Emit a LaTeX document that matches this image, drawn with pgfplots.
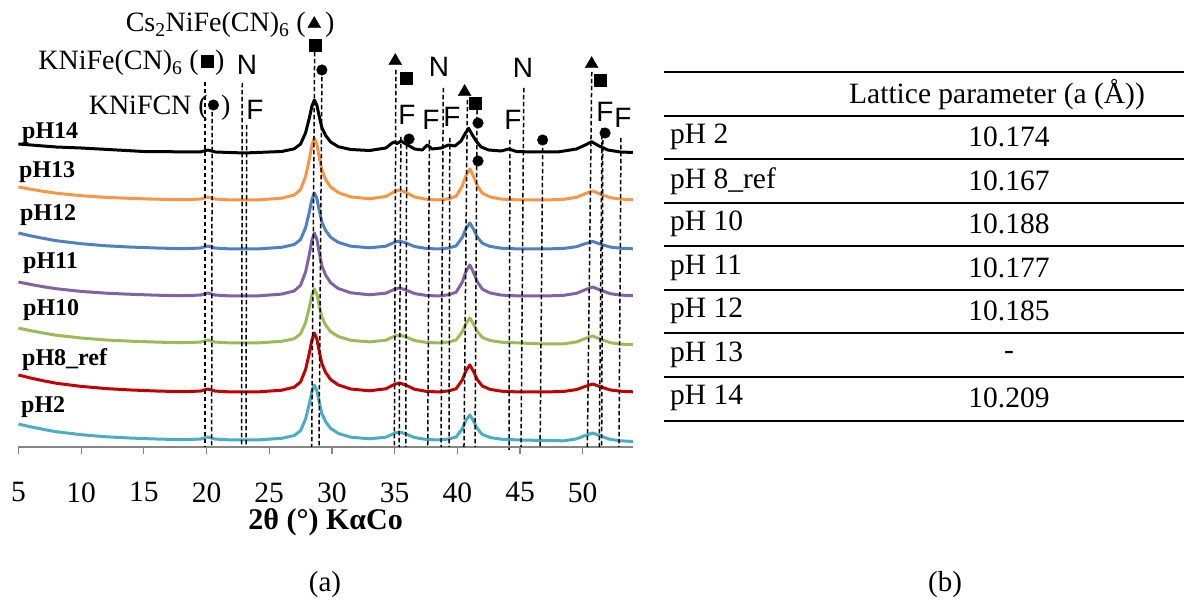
\documentclass[border=0pt]{standalone}
\usepackage{fontspec}
\setmainfont{Liberation Serif}
\newfontfamily\sansf{Liberation Sans}
\usepackage{pgfplots}
\usepackage{pgfplotstable}
\pgfplotsset{compat=1.18}
\definecolor{cO}{HTML}{F79646}
\definecolor{cB}{HTML}{4F81BD}
\definecolor{cP}{HTML}{8064A2}
\definecolor{cG}{HTML}{9BBB59}
\definecolor{cR}{HTML}{C00000}
\definecolor{cC}{HTML}{4BACC6}
\definecolor{axgray}{HTML}{868686}

\pgfplotstableread{
x o b p g r c
5 260 214 165 119 72 23
6 257.7 211.1 162.5 116.3 68.9 20.1
7 255.6 208.6 160.2 113.9 66.2 17.6
8 253.8 206.3 158.3 111.8 63.8 15.3
10 251.3 203.3 155.6 109 60.6 12.3
12 249.6 201.2 153.8 107 58.4 10.2
14 248.6 199.9 152.7 105.8 57 8.9
16 247.8 199 151.8 104.9 56 8
18 247.3 198.3 151.3 104.3 55.3 7.3
19.5 247.9 198.9 151.9 104.9 55.9 7.9
20.1 250 201 154 107 58 10
20.7 247.9 198.9 151.9 104.9 55.9 7.9
22 247 198 151 104 55 7
24 247 198 151 104 55 7
26 248.8 199.7 152.9 105.7 56.8 8.7
27 252.0 202.5 156.1 108.3 59.8 11.5
27.5 257.5 207.5 161.8 113.2 65.1 16.4
27.9 270.5 219.3 175.0 124.5 77.5 28.0
28.2 287.9 235 192.6 139.6 93.9 43.3
28.4 301.6 247.3 206.4 151.5 106.9 55.4
28.6 309 254 214 158 114 62
28.8 302.8 248.4 207.7 152.6 108.1 56.5
29.0 289.2 236.1 193.8 140.7 95.1 44.4
29.2 276.8 224.9 181.2 129.9 83.3 33.4
29.5 267.4 216.5 171.8 121.8 74.5 25.2
29.9 260.0 209.7 164.2 115.4 67.4 18.6
30.5 254.5 204.7 158.5 110.5 62.1 13.6
31.5 250.1 200.8 154.2 106.7 58.0 9.8
33 248.2 199.2 152.2 105.1 56.2 8.2
34.3 250.5 200.8 153.8 106.8 58.2 9.8
35.0 255.5 204.8 157.8 110.8 62.7 13.8
35.4 257 206 159 112 64 15
35.9 254.5 204 157 110 61.8 13
36.6 250 200.4 153.4 106.4 57.7 9.4
37.5 247.8 198.6 151.6 104.6 55.7 7.6
38.5 247 198 151 104 55 7
39.3 248.2 199 152.2 105 56.1 8
39.9 250.7 201.1 154.7 107 58.2 10
40.4 261 209.7 165 115.3 67.2 18.3
40.7 271.8 218.8 175.8 124 76.6 27
41.0 278 224 182 129 82 32
41.3 270.3 217.5 174.3 122.8 75.3 25.8
41.6 261 209.7 165 115.3 67.2 18.3
42.0 253.8 203.7 157.8 109.5 60.9 12.5
42.6 250.1 200.6 154.1 106.5 57.7 9.5
43.5 247.9 198.8 151.9 104.8 55.8 7.8
45 247 198 151 104 55 7
47 247 198 151 103 55 6.5
48.5 247.7 198.6 151.7 103.2 55.6 6.2
49.5 249.7 200.3 153.7 105 57.4 8.1
50.2 253.3 203.3 157.3 108.5 60.6 11.5
50.8 256 205.5 160 111 63 14
51.4 252.9 202.9 156.9 107.8 60.2 11
52.2 249.3 199.9 153.3 104.3 57 7.6
53 247.9 198.8 151.9 102.9 55.8 6.2
54 247.3 198.2 151.3 102.3 55.2 5.5
}\xrd

\pgfplotstableread{
x k
5 303
8 300
10 299
15 295.5
19.5 295
20.1 297
20.7 295
23 294
26 295.5
27 298.2
27.5 303
27.9 314.2
28.2 329
28.4 340.6
28.6 347
28.8 341.7
29.0 330
29.2 319.4
29.5 311.5
29.9 305
30.5 300.3
31.5 297.5
33 296.5
34.3 299
34.8 304
35.0 305
35.2 303.5
35.5 306
35.9 303
36.6 298
37.2 297
37.6 302
38.0 298
38.7 299
39.3 302
39.8 301
40.3 306
40.6 313
40.9 318.7
41.2 312
41.5 306
41.9 300
42.5 297
43.5 296
44.1 298
44.7 295.5
46 295
48 295
49.5 298
50.2 302
50.7 305.3
51.3 301
52 297
53 295
54 294.5
}\xrdk

\begin{document}
\begin{tikzpicture}
\path[use as bounding box] (0,0) rectangle (1184bp,610bp);
\begin{axis}[
  at={(18.4bp,163bp)}, anchor=south west,
  scale only axis, width=614.5bp, height=447bp,
  xmin=5, xmax=54, ymin=0, ymax=447,
  clip=false,
  axis x line=bottom, axis y line=none,
  x axis line style={-, axgray, line width=1.2bp},
  xtick={5,10,...,50},
  tick align=outside, major tick length=7bp,
  xtick style={axgray, line width=1.2bp},
  /pgf/number format/assume math mode=true,
  xticklabel style={font=\fontsize{29.5bp}{34bp}\selectfont, yshift=-25bp},
  xlabel={\textbf{2θ (°) KαCo}},
  xlabel style={font=\fontsize{30bp}{36bp}\selectfont, at={(axis description cs:0.5,0)}, anchor=center, yshift=-75bp},
  every axis plot/.append style={line join=round},
  dl/.style={black, line width=1.5bp, dash pattern=on 4.5bp off 2.5bp},
]
% traces
\addplot[cC, line width=3bp] table[x=x,y=c] {\xrd};
\addplot[cR, line width=3bp] table[x=x,y=r] {\xrd};
\addplot[cG, line width=3bp] table[x=x,y=g] {\xrd};
\addplot[cP, line width=3bp] table[x=x,y=p] {\xrd};
\addplot[cB, line width=3bp] table[x=x,y=b] {\xrd};
\addplot[cO, line width=3bp] table[x=x,y=o] {\xrd};
\addplot[black, line width=3bp] table[x=x,y=k] {\xrdk};
% dashed reference lines
\addplot[dl] coordinates {(19.88,365) (19.88,0)};
\addplot[dl] coordinates {(20.45,335) (20.41,0)};
\addplot[dl] coordinates {(22.85,364) (22.8,0)};
\addplot[dl] coordinates {(23.2,322) (23.15,0)};
\addplot[dl] coordinates {(28.62,395) (28.39,0)};
\addplot[dl] coordinates {(29.2,370) (28.97,0)};
\addplot[dl] coordinates {(35.1,377) (34.98,0)};
\addplot[dl] coordinates {(35.5,310) (35.36,0)};
\addplot[dl] coordinates {(35.96,302) (35.89,0)};
\addplot[dl] coordinates {(37.77,307) (37.64,0)};
\addplot[dl] coordinates {(38.88,359) (38.70,0)};
\addplot[dl] coordinates {(39.4,309) (39.34,0)};
\addplot[dl] coordinates {(40.8,347) (40.53,0)};
\addplot[dl] coordinates {(41.57,337) (41.41,0)};
\addplot[dl] coordinates {(44.2,307) (44.12,-3)};
\addplot[dl] coordinates {(45.3,359) (45.08,0)};
\addplot[dl] coordinates {(46.81,299) (46.6,0)};
\addplot[dl] coordinates {(50.72,375) (50.37,0)};
\addplot[dl] coordinates {(51.54,319) (51.32,0)};
\addplot[dl] coordinates {(51.6,307) (51.51,0)};
\addplot[dl] coordinates {(53.05,309) (52.89,0)};
% phase markers
\addplot[only marks, mark=triangle*, mark size=7.5bp, black] coordinates {(28.59,423) (35.05,386) (40.58,355) (50.71,383)};
\addplot[only marks, mark=square*, mark size=6bp, black] coordinates {(20.03,386) (28.67,402) (35.91,369) (41.45,344) (51.38,367)};
\addplot[only marks, mark=*, mark size=5.3bp, black] coordinates {(20.55,342) (29.2,377) (36.15,308) (41.65,324) (41.65,286) (46.8,307) (51.78,314)};
\end{axis}
% pH labels
\begin{scope}[every node/.style={font=\fontsize{24bp}{28bp}\selectfont\bfseries, anchor=west, inner sep=0pt}]
\node at (22bp,477bp) {pH14};
\node at (19bp,438bp) {pH13};
\node at (20bp,395bp) {pH12};
\node at (23bp,347bp) {pH11};
\node at (23bp,300bp) {pH10};
\node at (22bp,250bp) {pH8\_ref};
\node at (21bp,203bp) {pH2};
\end{scope}
% phase legend text
\begin{scope}[every node/.style={font=\fontsize{28bp}{32bp}\selectfont, inner sep=0pt}]
\node[anchor=base east] at (306bp,578bp) {Cs\textsubscript{2}NiFe(CN)\textsubscript{6} (};
\node[anchor=base west] at (325bp,578bp) {)};
\node[anchor=base east] at (199bp,540bp) {KNiFe(CN)\textsubscript{6} (};
\node[anchor=base west] at (215bp,540bp) {)};
\node[anchor=base east] at (208bp,495bp) {KNiFCN (};
\node[anchor=base west] at (221bp,495bp) {)};
\end{scope}
\begin{scope}[every node/.style={font=\fontsize{28bp}{32bp}\selectfont\sansf, inner sep=0pt}]
\node at (247bp,545bp) {N};
\node at (439bp,543bp) {N};
\node at (523bp,542bp) {N};
\node at (255bp,500bp) {F};
\node at (407bp,495bp) {F};
\node at (431bp,490bp) {F};
\node at (452bp,493bp) {F};
\node at (513bp,490bp) {F};
\node at (605bp,498bp) {F};
\node at (623bp,492bp) {F};
\end{scope}
% captions
\node[font=\fontsize{29bp}{34bp}\selectfont] at (325bp,25bp) {(a)};
\node[font=\fontsize{29bp}{34bp}\selectfont] at (945bp,25bp) {(b)};
% table
\foreach \yy in {538,494,451,407,364,320,277,233,189} {
  \draw[line width=2bp] (664bp,\yy bp) -- (1184bp,\yy bp);
}
\begin{scope}[every node/.style={font=\fontsize{29.5bp}{34bp}\selectfont, inner sep=0pt}]
\node at (997bp,515bp) {Lattice parameter (a (Å))};
\node[anchor=west] at (670bp,473bp) {pH 2};
\node[anchor=west] at (670bp,429bp) {pH 8\_ref};
\node[anchor=west] at (670bp,386bp) {pH 10};
\node[anchor=west] at (670bp,342bp) {pH 11};
\node[anchor=west] at (670bp,299bp) {pH 12};
\node[anchor=west] at (670bp,255bp) {pH 13};
\node[anchor=west] at (670bp,212bp) {pH 14};
\node at (1009bp,473bp) {10.174};
\node at (1009bp,429bp) {10.167};
\node at (1009bp,386bp) {10.188};
\node at (1009bp,342bp) {10.177};
\node at (1009bp,299bp) {10.185};
\node at (1009bp,255bp) {-};
\node at (1009bp,212bp) {10.209};
\end{scope}
\end{tikzpicture}
\end{document}
